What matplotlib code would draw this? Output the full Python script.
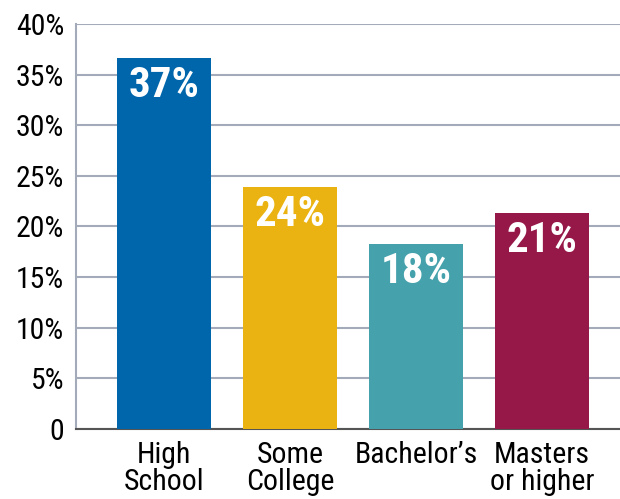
import matplotlib
matplotlib.use('Agg')
import matplotlib.pyplot as plt

categories = ['High\nSchool', 'Some\nCollege', "Bachelor\u2019s", 'Masters\nor higher']
values = [36.6, 23.9, 18.3, 21.3]
value_labels = ['37%', '24%', '18%', '21%']
colors = ['#0066AB', '#EAB311', '#45A2AC', '#961849']
yticks = [0, 5, 10, 15, 20, 25, 30, 35, 40]
ytick_labels = ['0', '5%', '10%', '15%', '20%', '25%', '30%', '35%', '40%']

plt.rcParams['font.family'] = ['Roboto Condensed', 'DejaVu Sans']

fig = plt.figure(figsize=(6.2, 4.99), dpi=100)
ax = fig.add_axes([0.1226, 0.1403, 0.8774, 0.8116])

x = list(range(len(categories)))
ax.bar(x, values, width=0.746, color=colors, zorder=3)

for i in x:
    ax.text(i, values[i] - 2.7, value_labels[i], ha='center', va='center',
            color='white', fontsize=31, fontweight='bold', zorder=4)

ax.set_ylim(0, 40)
ax.set_xlim(-0.698, 3.62)
ax.set_yticks(yticks)
ax.set_yticklabels(ytick_labels, fontsize=21.5)
ax.set_xticks(x)
ax.set_xticklabels(categories, fontsize=21.5, linespacing=0.93)
ax.tick_params(axis='both', length=0)
ax.tick_params(axis='x', pad=9)
ax.tick_params(axis='y', pad=8.5)

ax.yaxis.grid(True, color='#A3AAB9', linewidth=1.5, zorder=0)
for s in ['top', 'right']:
    ax.spines[s].set_visible(False)
ax.spines['left'].set_color('#A3AAB9')
ax.spines['left'].set_linewidth(1.5)
ax.spines['bottom'].set_color('#555555')
ax.spines['bottom'].set_linewidth(1.5)

fig.savefig('out.png', dpi=100)
